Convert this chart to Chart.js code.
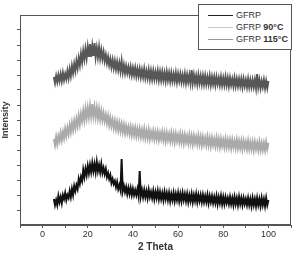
<!DOCTYPE html>
<html>
<head>
<meta charset="utf-8">
<script src="https://cdn.jsdelivr.net/npm/chart.js@4/dist/chart.umd.min.js"></script>
<style>
  body { margin: 0; background: #fff; }
  #wrap { position: relative; width: 306px; height: 253px; }
  #legend {
    position: absolute; left: 198px; top: 4px; width: 94px; height: 46px;
    background: #fff; border: 1px solid #555; box-sizing: border-box;
    font-family: "Liberation Sans", Arial, sans-serif; font-size: 9px; color: #333;
  }
  #legend .row { position: absolute; left: 9px; height: 10px; line-height: 10px; white-space: nowrap; }
  #legend .ln { display: inline-block; width: 25px; height: 1px; vertical-align: middle; margin-right: 3px; }
  #legend b { font-weight: bold; }
</style>
</head>
<body>
<div id="wrap">
  <canvas id="myChart"></canvas>
  <div id="legend">
    <div class="row" style="top:5px"><span class="ln" style="background:#222"></span>GFRP</div>
    <div class="row" style="top:17px"><span class="ln" style="background:#c8c8c8"></span>GFRP <b>90°C</b></div>
    <div class="row" style="top:29px"><span class="ln" style="background:#999"></span>GFRP <b>115°C</b></div>
  </div>
</div>
<script>
// 2 theta sampling: 5 .. 100 in 0.5 steps
const thetaStart = 5;
const thetaStep = 0.5;

const gfrp = [
  26,20, 25,20, 29,23, 28,22, 30,26,
  32,25, 30,27, 34,28, 36,30, 39,34,
  40,36, 46,41, 48,44, 55,48, 56,50,
  59,52, 60,53, 62,54, 61,53, 63,54,
  60,53, 61,52, 57,51, 56,48, 52,46,
  50,42, 46,41, 44,38, 43,36, 40,35,
  66,34, 39,33, 38,31, 37,31, 37,30,
  36,30, 35,30, 36,29, 54,29, 35,28,
  35,28, 34,27, 35,28, 33,27, 34,26,
  33,27, 34,26, 33,26, 32,25, 33,26,
  32,25, 32,24, 31,25, 32,24, 31,25,
  32,24, 31,24, 32,25, 31,24, 31,23,
  30,24, 31,23, 30,24, 31,23, 30,24,
  30,23, 30,23, 29,23, 30,22, 29,23,
  29,22, 28,22, 29,21, 28,22, 29,21,
  28,21, 28,22, 27,21, 28,21, 27,20,
  28,21, 27,20, 28,21, 27,20, 27,21,
  26,20, 27,20, 26,19, 27,20, 26,19,
  27,20, 26,19, 27,20, 26,19, 27,20,
  25
];

const gfrp90 = [
  86,80, 88,81, 89,84, 92,85, 93,87,
  96,89, 97,91, 100,93, 102,95, 104,97,
  106,99, 109,101, 111,104, 114,105, 116,107,
  117,108, 119,109, 121,109, 118,108, 117,107,
  116,106, 114,105, 112,104, 110,102, 109,100,
  107,99, 105,97, 104,96, 103,95, 102,94,
  101,93, 100,92, 99,92, 98,91, 98,90,
  97,90, 97,89, 96,89, 96,88, 95,88,
  96,87, 94,87, 95,86, 93,87, 94,86,
  93,86, 93,85, 92,86, 93,85, 92,84,
  92,85, 91,84, 92,84, 91,83, 91,84,
  90,83, 91,83, 90,82, 90,83, 89,82,
  90,82, 89,81, 89,82, 88,81, 89,81,
  88,80, 88,81, 87,80, 88,80, 87,79,
  87,80, 86,79, 87,79, 86,78, 86,79,
  85,78, 86,78, 85,78, 85,77, 85,78,
  84,77, 85,77, 84,77, 84,76, 84,77,
  83,76, 84,76, 83,76, 83,75, 83,76,
  82,75, 83,75, 82,75, 82,75, 83,76,
  82
];

const gfrp115 = [
  148,142, 149,143, 150,144, 151,144, 152,145,
  151,146, 154,147, 156,149, 159,152, 161,154,
  164,157, 167,160, 171,163, 174,166, 176,167,
  178,168, 181,168, 179,169, 182,168, 177,168,
  178,167, 175,166, 173,164, 170,162, 168,160,
  166,158, 165,157, 164,156, 163,155, 162,154,
  164,153, 160,152, 159,152, 158,151, 158,150,
  157,150, 157,149, 156,149, 156,148, 155,148,
  156,147, 154,147, 155,146, 154,146, 154,146,
  153,146, 154,145, 153,145, 153,145, 152,144,
  153,145, 152,144, 152,144, 151,144, 152,143,
  151,144, 151,143, 150,143, 151,142, 150,143,
  150,142, 155,142, 150,142, 149,141, 150,142,
  149,141, 149,141, 149,141, 148,141, 149,140,
  148,141, 148,140, 148,141, 147,140, 148,140,
  147,140, 148,140, 147,139, 147,140, 146,139,
  147,139, 146,139, 146,139, 146,138, 146,139,
  145,138, 146,138, 145,138, 145,138, 145,137,
  151,138, 145,137, 144,138, 145,137, 144,137,
  144
];

const xTickLabels = [0, 20, 40, 60, 80, 100];

function toPoints(arr) {
  return arr.map((v, i) => ({ x: thetaStart + i * thetaStep, y: v }));
}

const frame = {
  id: 'frame',
  afterDatasetsDraw(chart) {
    const a = chart.chartArea, ctx = chart.ctx;
    ctx.save();
    ctx.strokeStyle = '#555';
    ctx.lineWidth = 1;
    ctx.strokeRect(a.left + 0.5, a.top + 0.5, a.right - a.left - 1, a.bottom - a.top - 1);
    ctx.restore();
  }
};

Chart.defaults.font.family = '"Liberation Sans", Arial, sans-serif';
Chart.defaults.color = '#333';

new Chart("myChart", {
  type: "line",
  data: {
    datasets: [{
      label: "GFRP",
      data: toPoints(gfrp),
      borderColor: "#111",
      borderWidth: 2,
      pointRadius: 0,
      fill: false
    },{
      label: "GFRP 90°C",
      data: toPoints(gfrp90),
      borderColor: "#aaaaaa",
      borderWidth: 2,
      pointRadius: 0,
      fill: false
    },{
      label: "GFRP 115°C",
      data: toPoints(gfrp115),
      borderColor: "#575757",
      borderWidth: 2,
      pointRadius: 0,
      fill: false
    }]
  },
  options: {
    responsive: true,
    maintainAspectRatio: false,
    animation: false,
    layout: { padding: { top: 15, right: 15, left: 0, bottom: 0 } },
    plugins: {
      legend: { display: false },
      tooltip: { enabled: false }
    },
    scales: {
      x: {
        type: "linear",
        min: -10,
        max: 110,
        afterFit: s => { s.height = 28; },
        ticks: {
          stepSize: 10,
          padding: 1,
          maxRotation: 0,
          autoSkip: false,
          font: { size: 9 },
          callback: v => xTickLabels.includes(v) ? String(v) : ''
        },
        grid: { drawOnChartArea: false, tickLength: 3, color: '#555' },
        border: { color: '#555' },
        title: { display: true, text: "2 Theta", font: { size: 10, weight: 'bold' }, padding: 0, color: '#333' }
      },
      y: {
        min: 0,
        max: 210,
        afterFit: s => { s.width = 20; },
        afterBuildTicks: s => { s.ticks = s.ticks.filter(t => t.value > 0 && t.value < 210); },
        ticks: { stepSize: 15, display: false },
        grid: { drawOnChartArea: false, tickLength: 3, color: '#555' },
        border: { color: '#555' },
        title: { display: true, text: "Intensity", font: { size: 9, weight: 'bold' }, padding: 0, color: '#333' }
      }
    }
  },
  plugins: [frame]
});
</script>
</body>
</html>
